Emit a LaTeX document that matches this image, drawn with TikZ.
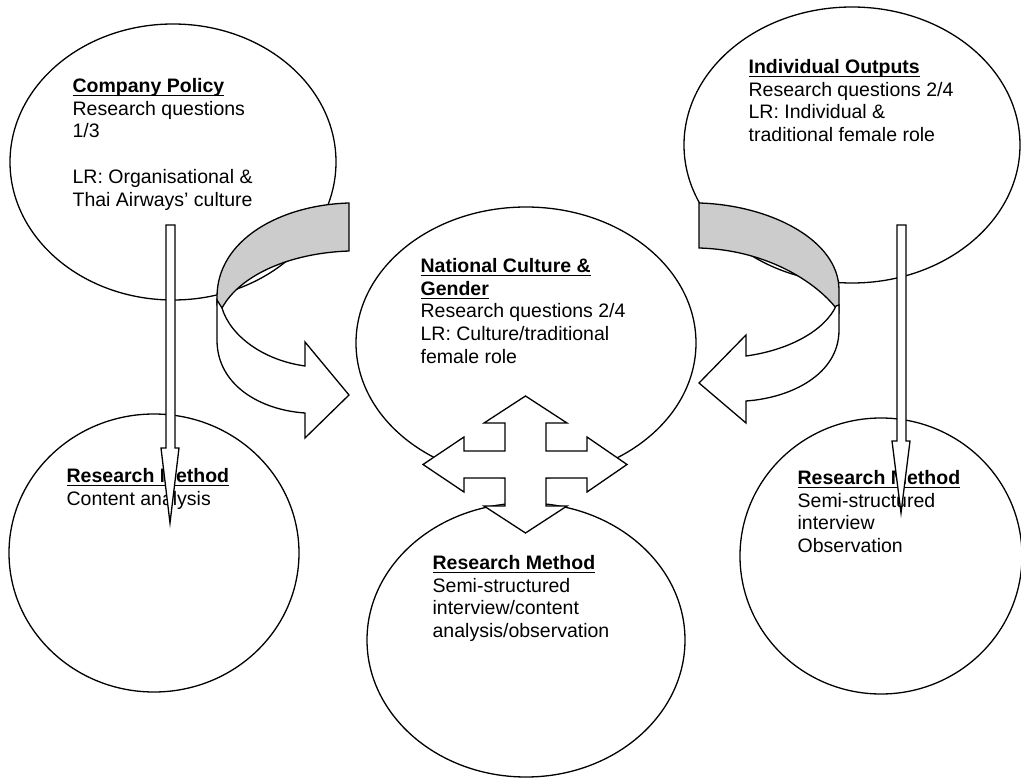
\documentclass[tikz,border=0pt]{standalone}
\usepackage{amsmath}
\usepackage{fontspec}
\setmainfont{Liberation Sans}
\usetikzlibrary{shapes.geometric}
\newcommand{\kopf}[1]{\underline{\smash[b]{\textbf{#1}}}}

\begin{document}
\begin{tikzpicture}[x=1pt,y=-1pt,line width=1.3pt,
  blase/.style={ellipse,draw,fill=white},
  txt/.style={anchor=north west,inner sep=0pt,align=left,font=\fontsize{19.5}{22.8}\selectfont},
  pfeil/.style={draw,fill=white,line join=miter},
  ruecken/.style={draw,fill=black!20,line join=miter}]
\useasboundingbox (0,0) rectangle (1021,778);
%\draw[help lines,yellow,thin] (0,0) grid[step=50] (1021,778);
\node [blase,minimum width=326,minimum height=276] (policy) at (173,162){};
\node [blase,minimum width=336,minimum height=276] (output) at (852,145){};
\node [blase,minimum width=340,minimum height=272] (kultur) at (526,343){};
\node [blase,minimum width=290,minimum height=278] (ml) at (154,553){};
\node [blase,minimum width=318,minimum height=274] (mm) at (526,640){};
\node [blase,minimum width=282,minimum height=276] (mr) at (881,556){};
\node [txt] (t1) at (72,77.5){\kopf{Company Policy}\\Research questions\\1/3\\[22.8pt]LR: Organisational \&\\Thai Airways' culture};
\node [txt] (t2) at (748,58.5){\kopf{Individual Outputs}\\Research questions 2/4\\LR: Individual \&\\traditional female role};
\node [txt] (t3) at (420,257.5){\kopf{National Culture \&}\\\kopf{Gender}\\Research questions 2/4\\LR: Culture/traditional\\female role};
\node [txt] (t4) at (66,467.5){\kopf{Research Method}\\Content analysis};
\node [txt] (t5) at (432,554.5){\kopf{Research Method}\\Semi-structured\\interview/content\\analysis/observation};
\node [txt] (t6) at (797,469.5){\kopf{Research Method}\\Semi-structured\\interview\\Observation};
% curved arrows
\draw [ruecken] (349,203) .. controls (280,205) and (217,240) .. (217,297) -- (217,305) -- (222,308) .. controls (240,275) and (290,253) .. (349,251) -- cycle;
\draw [pfeil] (217,300) -- (217,340) .. controls (217,385) and (260,410) .. (305,413) -- (305,438) -- (349,395) -- (305,342) -- (305,366) .. controls (262,360) and (230,335) .. (222,308) -- cycle;
\draw [ruecken] (699,203) .. controls (770,205) and (839,240) .. (839,290) -- (839,312) .. controls (820,285) and (770,250) .. (699,248) -- cycle;
\draw [pfeil] (839,305) -- (839,330) .. controls (839,375) and (790,398) .. (746,401) -- (746,423) -- (699,383) -- (746,335) -- (746,356) .. controls (790,350) and (825,330) .. (836,306) -- cycle;
% down arrows
\draw [pfeil] (166,225) -- (175,225) -- (175,448) -- (179,448) -- (170,523) -- (161,448) -- (166,448) -- cycle;
\draw [pfeil] (897,225) -- (906,225) -- (906,441) -- (910,441) -- (901,513) -- (892,441) -- (897,441) -- cycle;
% cross
\draw [pfeil] (525.5,396) -- (567,423) -- (546,423) -- (546,451) -- (587,451) -- (587,437) -- (627,464.5) -- (587,492) -- (587,478) -- (546,478) -- (546,506) -- (567,506) -- (525.5,533) -- (484,506) -- (505,506) -- (505,478) -- (464,478) -- (464,492) -- (423,464.5) -- (464,437) -- (464,451) -- (505,451) -- (505,423) -- (484,423) -- cycle;
\end{tikzpicture}
\end{document}
